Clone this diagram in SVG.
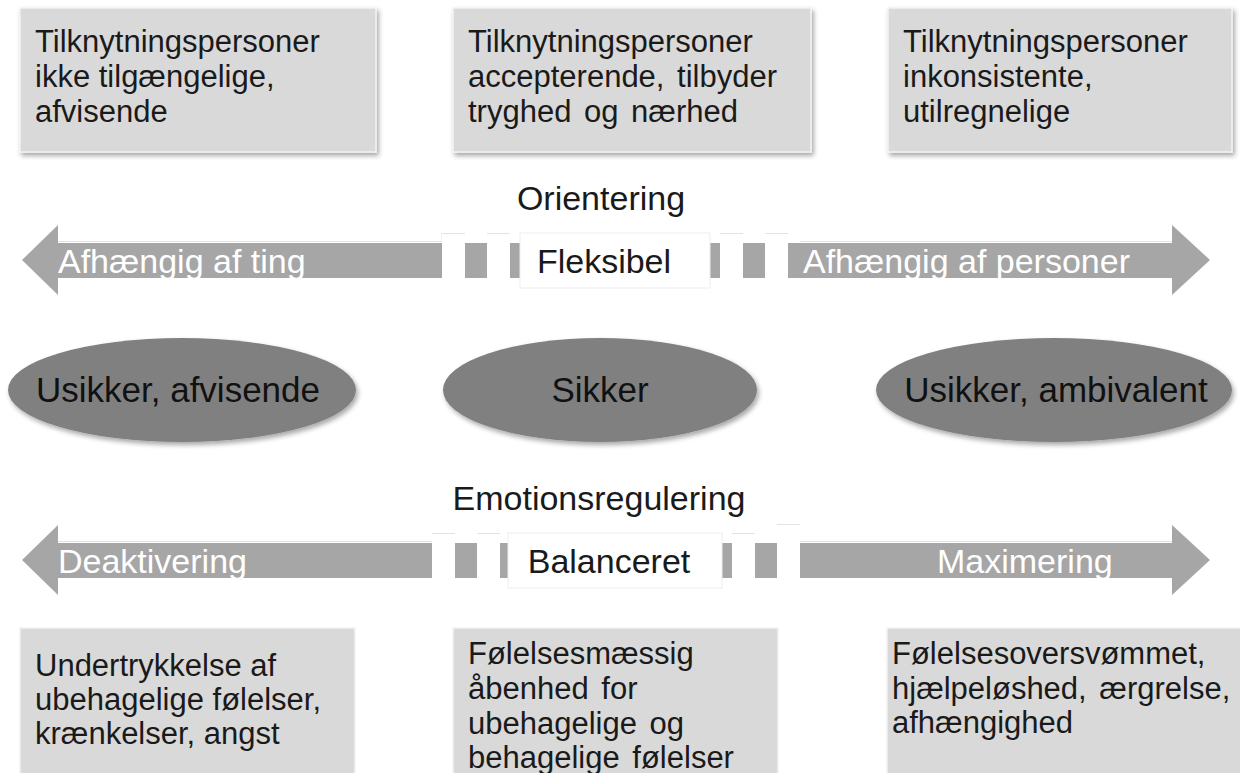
<svg xmlns="http://www.w3.org/2000/svg" width="1240" height="773" viewBox="0 0 1240 773">
<defs>
<filter id="sh" x="-10%" y="-10%" width="125%" height="130%">
<feGaussianBlur in="SourceAlpha" stdDeviation="2.5"/>
<feOffset dx="2" dy="3" result="b"/>
<feComponentTransfer><feFuncA type="linear" slope="0.35"/></feComponentTransfer>
<feMerge><feMergeNode/><feMergeNode in="SourceGraphic"/></feMerge>
</filter>
<style>
text{font-family:"Liberation Sans",Arial,sans-serif;}
.box{fill:#d9d9d9;stroke:#f2f2f2;stroke-width:1.5;}
.bt{font-size:31px;fill:#1a1a1a;}
.arrow{fill:#a6a6a6;}
.at{font-size:34px;fill:#ffffff;}
.gap{fill:#ffffff;stroke:none;}
.edge{stroke:#e3e3e3;stroke-width:1;fill:none;}
.lab{fill:#ffffff;stroke:#ededed;stroke-width:1;}
.lt{font-size:34px;fill:#1a1a1a;text-anchor:middle;}
.ell{fill:#808080;}
.et{font-size:35px;fill:#111111;text-anchor:middle;}
.hd{font-size:34px;fill:#1a1a1a;text-anchor:middle;}
</style>
</defs>
<rect width="1240" height="773" fill="#ffffff"/>

<g id="box-top-left">
<rect class="box" x="20" y="8" width="356" height="144" filter="url(#sh)"/>
<text class="bt" x="35" y="52">Tilknytningspersoner</text>
<text class="bt" x="35" y="87">ikke tilgængelige,</text>
<text class="bt" x="35" y="122">afvisende</text>
</g>
<g id="box-top-mid">
<rect class="box" x="453" y="8" width="358" height="144" filter="url(#sh)"/>
<text class="bt" x="468" y="52">Tilknytningspersoner</text>
<text class="bt" x="468" y="87" word-spacing="4">accepterende, tilbyder</text>
<text class="bt" x="468" y="122" word-spacing="4">tryghed og nærhed</text>
</g>
<g id="box-top-right">
<rect class="box" x="888" y="8" width="344" height="144" filter="url(#sh)"/>
<text class="bt" x="903" y="52">Tilknytningspersoner</text>
<text class="bt" x="903" y="87">inkonsistente,</text>
<text class="bt" x="903" y="122">utilregnelige</text>
</g>

<g id="heading-orientering">
<text class="hd" x="601" y="210">Orientering</text>
</g>

<g id="connectors">
<g id="arrow-orientering">
<path class="arrow" d="M22,260 L58,225 L58,243 L520,243 L520,278 L58,278 L58,295 Z"/>
<path class="arrow" d="M710,243 L1172,243 L1172,225 L1210,260 L1172,295 L1172,278 L710,278 Z"/>
<path class="edge" d="M58,241.5 H442 M442,233 V241.5 M800,241.5 H1172"/>
<rect class="gap" x="442" y="233" width="23" height="55"/>
<rect class="gap" x="487" y="233" width="23" height="55"/>
<rect class="gap" x="720" y="233" width="23" height="55"/>
<rect class="gap" x="765" y="233" width="23" height="55"/>
<path class="edge" d="M442,233.5 H465 M487,233.5 H510 M720,233.5 H743 M765,233.5 H788"/>
<text class="at" x="58" y="273">Afhængig af ting</text>
<text class="at" x="803" y="273">Afhængig af personer</text>
</g>
<g id="arrow-emotion">
<path class="arrow" d="M22,560 L58,525 L58,543 L508,543 L508,578 L58,578 L58,595 Z"/>
<path class="arrow" d="M722,543 L1172,543 L1172,525 L1210,560 L1172,595 L1172,578 L722,578 Z"/>
<path class="edge" d="M58,541.5 H432 M800,541.5 H1172"/>
<rect class="gap" x="432" y="533" width="23" height="55"/>
<rect class="gap" x="477" y="533" width="23" height="55"/>
<rect class="gap" x="732" y="533" width="23" height="55"/>
<rect class="gap" x="777" y="524" width="23" height="55"/>
<path class="edge" d="M432,533.5 H455 M477,533.5 H500 M732,533.5 H755 M777,524.5 H800"/>
<text class="at" x="58" y="573">Deaktivering</text>
<text class="at" x="937" y="573">Maximering</text>
</g>
</g>

<g id="label-fleksibel">
<rect class="lab" x="520" y="233" width="190" height="55"/>
<text class="lt" x="604" y="273">Fleksibel</text>
</g>

<g id="ellipse-left">
<ellipse class="ell" cx="182" cy="390" rx="174" ry="52" filter="url(#sh)"/>
<text class="et" x="178" y="402">Usikker, afvisende</text>
</g>
<g id="ellipse-mid">
<ellipse class="ell" cx="600" cy="390" rx="157" ry="52" filter="url(#sh)"/>
<text class="et" x="600" y="402">Sikker</text>
</g>
<g id="ellipse-right">
<ellipse class="ell" cx="1054" cy="390" rx="178" ry="52" filter="url(#sh)"/>
<text class="et" x="1056" y="402">Usikker, ambivalent</text>
</g>

<g id="heading-emotion">
<text class="hd" x="599" y="510">Emotionsregulering</text>
</g>

<g id="label-balanceret">
<rect class="lab" x="508" y="533" width="214" height="55"/>
<text class="lt" x="609" y="573">Balanceret</text>
</g>

<g id="box-bottom-left">
<rect class="box" x="20" y="628" width="335" height="150"/>
<text class="bt" x="35" y="676">Undertrykkelse af</text>
<text class="bt" x="35" y="710">ubehagelige følelser,</text>
<text class="bt" x="35" y="744">krænkelser, angst</text>
</g>
<g id="box-bottom-mid">
<rect class="box" x="453" y="628" width="325" height="150"/>
<text class="bt" x="468" y="664">Følelsesmæssig</text>
<text class="bt" x="468" y="699" word-spacing="4">åbenhed for</text>
<text class="bt" x="468" y="734" word-spacing="4">ubehagelige og</text>
<text class="bt" x="468" y="768" word-spacing="4">behagelige følelser</text>
</g>
<g id="box-bottom-right">
<rect class="box" x="887" y="628" width="360" height="150"/>
<text class="bt" x="892" y="664">Følelsesoversvømmet,</text>
<text class="bt" x="892" y="699" word-spacing="4">hjælpeløshed, ærgrelse,</text>
<text class="bt" x="892" y="733">afhængighed</text>
</g>
</svg>
